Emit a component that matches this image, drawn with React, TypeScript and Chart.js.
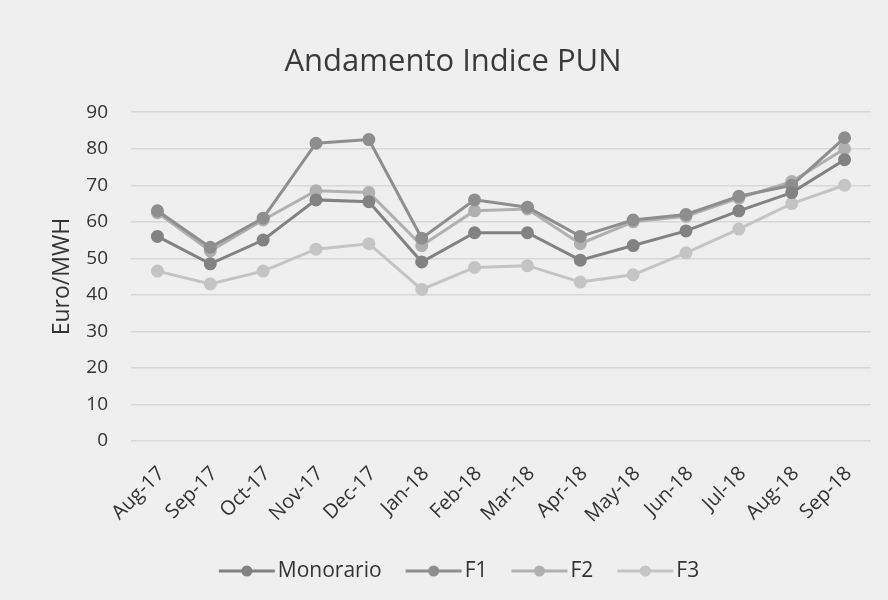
import React, { useEffect, useRef } from "react";
import { Chart, registerables } from "chart.js";

Chart.register(...registerables);

const categories = [
  "Aug-17", "Sep-17", "Oct-17", "Nov-17", "Dec-17", "Jan-18", "Feb-18",
  "Mar-18", "Apr-18", "May-18", "Jun-18", "Jul-18", "Aug-18", "Sep-18",
];
const monorario = [56, 48.5, 55, 66, 65.5, 49, 57, 57, 49.5, 53.5, 57.5, 63, 68, 77];
const f1 = [63, 53, 61, 81.5, 82.5, 55.5, 66, 64, 56, 60.5, 62, 67, 70, 83];
const f2 = [62.5, 52, 60.5, 68.5, 68, 53.5, 63, 63.5, 54, 60, 61.5, 66.5, 71, 80];
const f3 = [46.5, 43, 46.5, 52.5, 54, 41.5, 47.5, 48, 43.5, 45.5, 51.5, 58, 65, 70];

const seriesNames = ["Monorario", "F1", "F2", "F3"];
const seriesColors = ["#828282", "#8e8e8e", "#b0b0b0", "#c4c4c4"];

const chartTitle = "Andamento Indice PUN";
const yTitle = "Euro/MWH";
const FONT = "'Open Sans', sans-serif";

const LEGEND_CX = 459;
const LEGEND_Y = 571;

const customLegend = {
  id: "customLegend",
  afterDraw(chart: any) {
    const ctx: CanvasRenderingContext2D = chart.ctx;
    const ds = chart.data.datasets;
    ctx.save();
    ctx.font = `21px ${FONT}`;
    ctx.textBaseline = "middle";
    ctx.textAlign = "left";
    const iconW = 56;
    const gapIT = 3;
    const gapItems = 24;
    const widths = ds.map((d: any) => iconW + gapIT + ctx.measureText(d.label).width);
    const total = widths.reduce((a: number, b: number) => a + b, 0) + gapItems * (ds.length - 1);
    let x = LEGEND_CX - total / 2;
    ds.forEach((d: any, i: number) => {
      const color = d.borderColor as string;
      ctx.strokeStyle = color;
      ctx.lineWidth = 3;
      ctx.beginPath();
      ctx.moveTo(x, LEGEND_Y);
      ctx.lineTo(x + iconW, LEGEND_Y);
      ctx.stroke();
      ctx.fillStyle = color;
      ctx.beginPath();
      ctx.arc(x + iconW / 2, LEGEND_Y, 5.5, 0, Math.PI * 2);
      ctx.fill();
      ctx.fillStyle = "#333333";
      ctx.fillText(d.label, x + iconW + gapIT, LEGEND_Y);
      x += widths[i] + gapItems;
    });
    ctx.restore();
  },
};

export default function App() {
  const ref = useRef<HTMLCanvasElement>(null);

  useEffect(() => {
    document.body.style.margin = "0";
    document.body.style.background = "#efefef";
    const values = [monorario, f1, f2, f3];
    const chart = new Chart(ref.current!, {
      type: "line",
      data: {
        labels: categories,
        datasets: seriesNames.map((name, i) => ({
          label: name,
          data: values[i],
          borderColor: seriesColors[i],
          backgroundColor: seriesColors[i],
          pointBackgroundColor: seriesColors[i],
          pointBorderColor: seriesColors[i],
          borderWidth: 3,
          pointRadius: 5,
          tension: 0,
          fill: false,
        })),
      },
      plugins: [customLegend],
      options: {
        responsive: false,
        animation: false,
        layout: { padding: { left: 35, right: 17, top: 0, bottom: 47 } },
        plugins: {
          title: {
            display: true,
            text: chartTitle,
            color: "#3a3a3a",
            font: { family: FONT, size: 31, weight: "normal" },
            padding: { top: 44, bottom: 31 },
          },
          legend: { display: false },
          tooltip: { enabled: false },
        },
        scales: {
          x: {
            offset: true,
            grid: { display: false, drawTicks: false },
            border: { display: false },
            ticks: {
              color: "#333333",
              font: { family: FONT, size: 20 },
              minRotation: 45,
              maxRotation: 45,
              padding: 21,
              labelOffset: 4,
            },
            afterFit: (s: any) => {
              s.height = 112;
            },
          },
          y: {
            min: 0,
            max: 90,
            grid: { color: "#d8d8d8", lineWidth: 1.5, drawTicks: false },
            border: { display: false },
            ticks: {
              stepSize: 10,
              color: "#333333",
              font: { family: FONT, size: 19 },
              padding: 23,
            },
            title: {
              display: true,
              text: yTitle,
              color: "#333333",
              font: { family: FONT, size: 23 },
              padding: { top: 14, bottom: 0 },
            },
            afterFit: (s: any) => {
              s.width = 96;
            },
          },
        },
      },
    });
    return () => chart.destroy();
  }, []);

  return (
    <div style={{ width: 888, height: 600, background: "#efefef" }}>
      <canvas ref={ref} width={888} height={600} style={{ display: "block", width: 888, height: 600 }} />
    </div>
  );
}
